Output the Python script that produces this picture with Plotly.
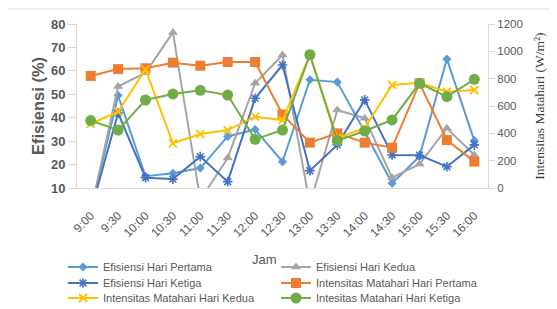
import plotly.graph_objects as go

jam = ["9:00", "9:30", "10:00", "10:30", "11:00", "11:30", "12:00", "12:30",
       "13:00", "13:30", "14:00", "14:30", "15:00", "15:30", "16:00"]

ef_pertama = [0, 49.5, 15, 16.3, 18.5, 32, 35, 21.2, 56.2, 55.2, 34, 12, 23.5, 65, 30.2]
ef_kedua = [0, 53.3, 59.2, 76.4, 5, 22.8, 54.7, 66.8, 3, 43.3, 39.8, 14.4, 20.2, 35.5, 24.1]
ef_ketiga = [0, 42, 14.4, 13.8, 23.4, 12.7, 48.3, 62.5, 17.4, 28.4, 47.6, 24.1, 24, 19.1, 28.4]

int_pertama = [820, 870, 876, 917, 895, 922, 922, 538, 332, 400, 332, 295, 766, 351, 193]
int_kedua = [470, 558, 868, 327, 395, 424, 522, 497, 975, 364, 440, 754, 770, 705, 717]
int_ketiga = [493, 424, 644, 688, 715, 680, 356, 424, 975, 346, 417, 498, 766, 668, 795]

# the page body has an 8px default margin, so the figure starts at (8, 8)
OFF = 8
W, H = 557 - OFF, 309 - OFF
ML, MT = 77 - OFF, 24 - OFF
PW, PH = 411, 164
MR = W - ML - PW
MB = H - MT - PH

def px_x(px):  # absolute window px -> paper
    return (px - OFF - ML) / PW

def px_y(py):
    return (MT + PH - (py - OFF)) / PH

FONT = "Liberation Sans, Arial, sans-serif"
GRAY = "#595959"
AXC = "#D9D9D9"

series = [
    ("Efisiensi Hari Pertama", ef_pertama, "y", "#5B9BD5", dict(symbol="diamond", size=7)),
    ("Efisiensi Hari Kedua", ef_kedua, "y", "#A5A5A5", dict(symbol="triangle-up", size=9)),
    ("Efisiensi Hari Ketiga", ef_ketiga, "y", "#4472C4",
     dict(symbol="asterisk-open", size=8, line=dict(width=1.6, color="#4472C4"))),
    ("Intensitas Matahari Hari Pertama", int_pertama, "y2", "#ED7D31", dict(symbol="square", size=10)),
    ("Intensitas Matahari Hari Kedua", int_kedua, "y2", "#FFC000",
     dict(symbol="x-thin-open", size=8, line=dict(width=1.8, color="#FFC000"))),
    ("Intesitas Matahari Hari Ketiga", int_ketiga, "y2", "#70AD47", dict(symbol="circle", size=11)),
]

col1, col2 = 63, 276
rows = [267, 283, 298]
slots = [("legend", col1, rows[0]), ("legend2", col2, rows[0]),
         ("legend3", col1, rows[1]), ("legend4", col2, rows[1]),
         ("legend5", col1, rows[2]), ("legend6", col2, rows[2])]

fig = go.Figure()
for (name, vals, yax, color, mk), (lg, _, _) in zip(series, slots):
    mk = dict(mk)
    mk["color"] = color
    fig.add_trace(go.Scatter(
        x=jam, y=vals, name=name, yaxis=yax, mode="lines+markers",
        line=dict(color=color, width=2), marker=mk, legend=lg,
        cliponaxis=True,
    ))

layout_legends = {}
for lg, lx, ly in slots:
    layout_legends[lg] = dict(
        x=px_x(lx), y=px_y(ly), xanchor="left", yanchor="middle",
        font=dict(family=FONT, size=11, color=GRAY),
        bgcolor="rgba(0,0,0,0)", itemwidth=30,
    )

fig.update_layout(
    width=W, height=H,
    margin=dict(l=ML, r=MR, t=MT, b=MB, autoexpand=False),
    paper_bgcolor="white", plot_bgcolor="white",
    showlegend=True,
    xaxis=dict(
        type="category", range=[-0.5, len(jam) - 0.5],
        tickangle=-45, tickfont=dict(family=FONT, size=12, color=GRAY),
        ticklabelstandoff=15,
        showline=True, linecolor=AXC, linewidth=1, showgrid=False,
        ticks="", zeroline=False,
    ),
    yaxis=dict(
        range=[10, 80], dtick=10,
        tickfont=dict(family=FONT, size=13, color=GRAY, weight="bold"),
        showline=True, linecolor=AXC, linewidth=1, showgrid=False,
        ticks="outside", ticklen=8, tickcolor=AXC, zeroline=False,
        title=dict(text="Efisiensi (%)", font=dict(family=FONT, size=16.5, color=GRAY, weight="bold"),
                   standoff=2),
    ),
    yaxis2=dict(
        range=[0, 1200], dtick=200, overlaying="y", side="right",
        tickfont=dict(family=FONT, size=11.5, color=GRAY),
        showline=True, linecolor=AXC, linewidth=1, showgrid=False,
        ticks="outside", ticklen=6, tickcolor=AXC, zeroline=False,
        title=dict(text="Intensitas Matahari (W/m²)",
                   font=dict(family="Liberation Serif, Times New Roman, serif", size=13.5, color="#404040"),
                   standoff=12),
    ),
    annotations=[dict(text="Jam", xref="paper", yref="paper", x=px_x(264), y=px_y(259),
                      xanchor="center", yanchor="middle", showarrow=False,
                      font=dict(family=FONT, size=13, color=GRAY))],
    shapes=[dict(type="rect", xref="paper", yref="paper",
                 x0=px_x(7), x1=px_x(554), y0=px_y(320), y1=px_y(9),
                 line=dict(color="#D9D9D9", width=1), layer="below")],
    **layout_legends,
)

fig.write_html("out.html")
